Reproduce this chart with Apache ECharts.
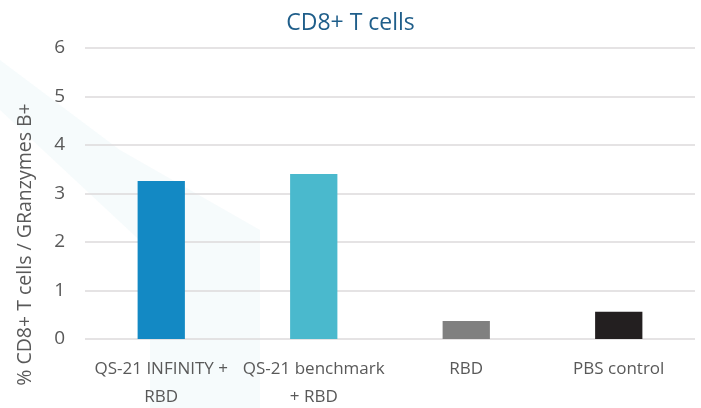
<!DOCTYPE html>
<html>
<head>
<meta charset="utf-8">
<script src="https://cdn.jsdelivr.net/npm/echarts@6/dist/echarts.min.js"></script>
<style>
  html, body { margin: 0; padding: 0; background: #fff; }
  #chart { width: 701px; height: 408px; }
</style>
</head>
<body>
<div id="chart"></div>
<script>
  var categories = ['QS-21 INFINITY +\nRBD', 'QS-21 benchmark\n+ RBD', 'RBD', 'PBS control'];
  var values = [3.26, 3.40, 0.37, 0.56];
  var barColors = ['#1389c4', '#4ab9cd', '#808080', '#231f20'];
  var yTicks = [0, 1, 2, 3, 4, 5, 6];

  var chart = echarts.init(document.getElementById('chart'));
  var font = '"Open Sans", sans-serif';

  var option = {
    animation: false,
    backgroundColor: '#fff',
    title: {
      text: 'CD8+ T cells',
      left: 'center',
      top: 7,
      textStyle: {
        fontFamily: font,
        fontSize: 23,
        fontWeight: 'normal',
        color: '#1f5e8a'
      }
    },
    // faint decorative backdrop
    graphic: [
      {
        type: 'polygon',
        z: -10,
        shape: { points: [[0, 110], [0, 60], [120, 150], [260, 230], [260, 408], [150, 408], [150, 250]] },
        style: { fill: 'rgba(225, 243, 246, 0.3)' }
      }
    ],
    grid: {
      left: 85,
      right: 6,
      top: 48,
      bottom: 69,
      containLabel: false,
      outerBoundsMode: 'none'
    },
    xAxis: {
      type: 'category',
      data: categories,
      axisLine: { show: false },
      axisTick: { show: false },
      axisLabel: {
        fontFamily: font,
        fontSize: 17,
        color: '#595959',
        lineHeight: 28,
        margin: 16,
        interval: 0
      }
    },
    yAxis: {
      type: 'value',
      min: yTicks[0],
      max: yTicks[yTicks.length - 1],
      interval: 1,
      name: '% CD8+ T cells / GRanzymes B+',
      nameLocation: 'middle',
      nameGap: 50,
      nameTextStyle: {
        fontFamily: font,
        fontSize: 19.5,
        color: '#595959',
        padding: [0, 102, 0, 0]
      },
      axisLine: { show: false },
      axisTick: { show: false },
      axisLabel: {
        fontFamily: font,
        fontSize: 19,
        color: '#595959',
        margin: 20
      },
      splitLine: {
        lineStyle: { color: '#dcdadb', width: 1.5 }
      }
    },
    series: [
      {
        type: 'bar',
        barWidth: '31%',
        data: values.map(function(v, i) {
          return { value: v, itemStyle: { color: barColors[i] } };
        })
      }
    ]
  };

  chart.setOption(option);
</script>
</body>
</html>
